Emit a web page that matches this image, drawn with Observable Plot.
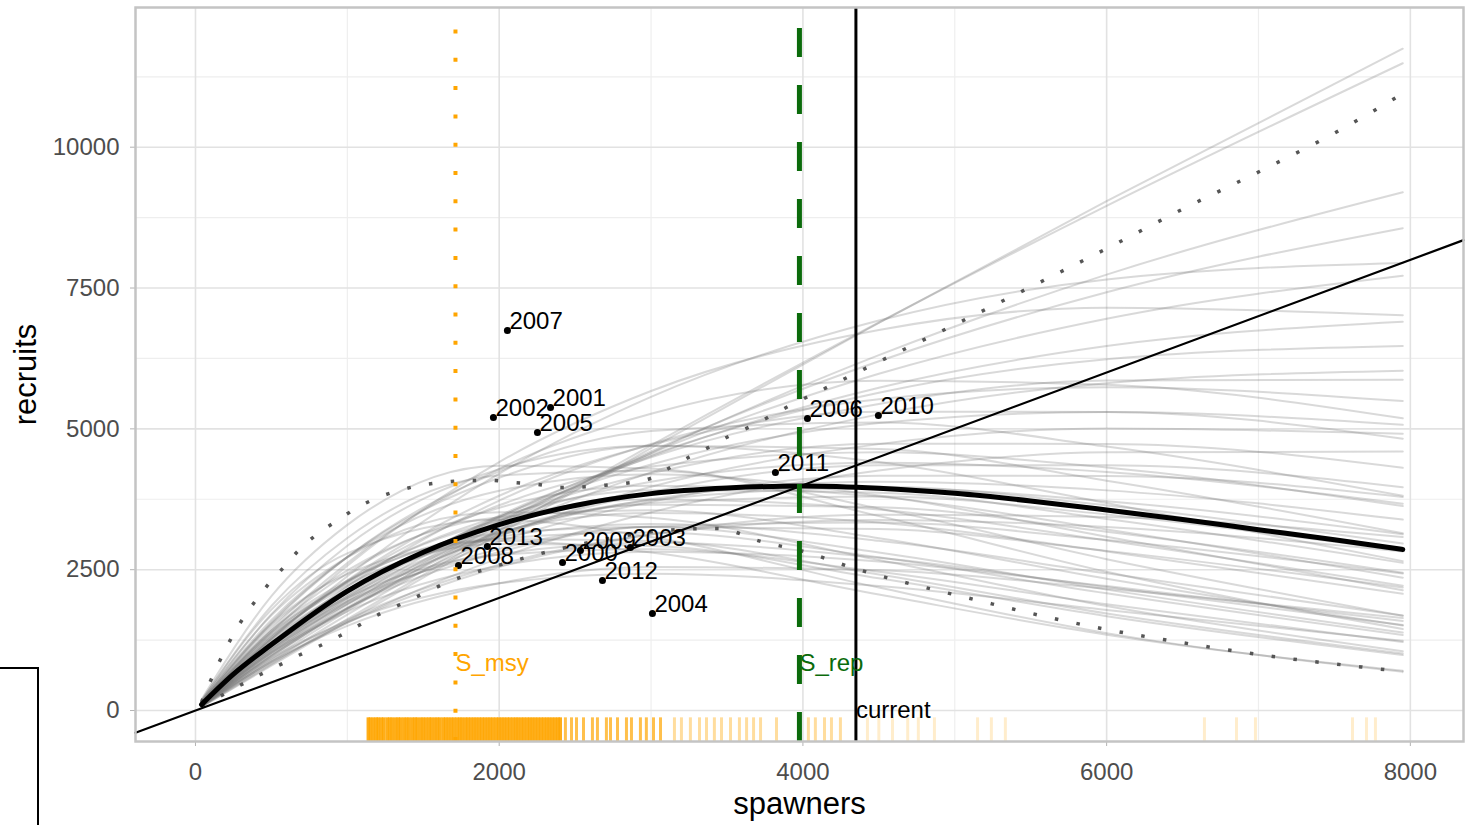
<!DOCTYPE html>
<html><head><meta charset="utf-8">
<script src="https://cdn.jsdelivr.net/npm/d3@7"></script>
<script src="https://cdn.jsdelivr.net/npm/@observablehq/plot@0.6"></script>
<style>
html,body{margin:0;padding:0;background:#fff;}
#chart{position:absolute;left:0;top:0;}
#legend-stub{position:absolute;left:-2px;top:667px;width:39px;height:170px;border-top:2px solid #000;border-right:2px solid #000;}
</style></head><body>
<div id="chart"></div>
<div id="legend-stub"></div>
<script>
// ---- scales / ticks ----
const xDomain = [-395, 8350];
const yDomain = [-550, 12480];
const xTicks = [0, 2000, 4000, 6000, 8000];
const xMinor = [1000, 3000, 5000, 7000];
const yTicks = [0, 2500, 5000, 7500, 10000];
const yMinor = [1250, 3750, 6250, 8750, 11250];

// ---- posterior curves (recruits read at these spawner values) ----
const curveS = [40, 500, 1000, 2000, 3000, 4500, 6000, 7950];
const grayCurves = [
[64, 796, 1584, 3137, 4658, 6883, 9041, 11748],
[66, 818, 1623, 3192, 4708, 6888, 8958, 11490],
[72, 875, 1703, 3221, 4571, 6308, 7738, 9200],
[76, 917, 1769, 3294, 4600, 6200, 7426, 8562],
[80, 956, 1826, 3335, 4568, 5979, 6955, 7719],
[84, 993, 1879, 3363, 4514, 5731, 6469, 6902],
[88, 1033, 1942, 3427, 4536, 5641, 6236, 6473],
[92, 1071, 1994, 3457, 4495, 5442, 5857, 5873],
[96, 1104, 2032, 3439, 4367, 5102, 5298, 5071],
[100, 1135, 2063, 3404, 4212, 4735, 4733, 4309],
[104, 1166, 2092, 3366, 4063, 4399, 4234, 3671],
[108, 1200, 2118, 3299, 3855, 3974, 3641, 2963],
[112, 1218, 2121, 3213, 3651, 3610, 3174, 2446],
[116, 1246, 2142, 3164, 3505, 3337, 2824, 2073],
[120, 1270, 2150, 3080, 3311, 3012, 2435, 1686],
[128, 1330, 2210, 3052, 3160, 2720, 2081, 1341],
[140, 1421, 2307, 3042, 3008, 2416, 1724, 1013],
[156, 1537, 2422, 3009, 2804, 2059, 1346, 704],
[177, 1856, 3063, 4170, 4258, 3586, 2687, 1681],
[197, 2030, 3296, 4346, 4298, 3452, 2463, 1447],
[158, 1711, 2926, 4282, 4699, 4412, 3682, 2652],
[139, 1544, 2726, 4246, 4960, 5114, 4685, 3812],
[127, 1448, 2620, 4290, 5268, 5855, 5783, 5187],
[119, 1389, 2572, 4411, 5673, 6755, 7151, 7019],
[79, 867, 1503, 2259, 2546, 2489, 2161, 1641],
[87, 931, 1576, 2259, 2428, 2209, 1786, 1237],
[95, 1026, 1756, 2569, 2820, 2647, 2209, 1591],
[100, 1088, 1894, 2869, 3260, 3223, 2834, 2184],
[104, 1147, 2025, 3154, 3684, 3799, 3481, 2832],
[119, 1305, 2273, 3443, 3911, 3868, 3400, 2621],
[131, 1418, 2437, 3600, 3988, 3797, 3214, 2358],
[96, 1076, 1931, 3107, 3750, 4061, 3908, 3389],
[111, 1272, 2310, 3812, 4717, 5303, 5301, 4826],
[92, 1045, 1898, 3131, 3875, 4356, 4354, 3964],
[104, 1196, 2201, 3726, 4731, 5527, 5739, 5494],
[143, 1496, 2486, 3433, 3555, 3060, 2341, 1508],
[165, 1690, 2719, 3520, 3420, 2672, 1855, 1052],
[75, 860, 1556, 2547, 3128, 3477, 3434, 3080],
[83, 972, 1800, 3088, 3971, 4729, 5006, 4913],
[151, 1608, 2723, 3902, 4194, 3815, 3085, 2136],
[80, 897, 1609, 2589, 3125, 3384, 3257, 2824],
[72, 838, 1560, 2705, 3518, 4259, 4584, 4597],
[134, 1380, 2241, 2955, 2922, 2347, 1675, 984],
[115, 1205, 2002, 2765, 2864, 2465, 1886, 1215],
[107, 1268, 2383, 4205, 5567, 6923, 7653, 7944],
[99, 1113, 1981, 3141, 3734, 3951, 3717, 3128],
[115, 1291, 2298, 3643, 4331, 4583, 4312, 3629],
[123, 1332, 2290, 3382, 3747, 3567, 3019, 2216],
[87, 999, 1815, 2995, 3707, 4167, 4165, 3792],
[107, 1143, 1935, 2772, 2980, 2711, 2191, 1518],
[131, 1371, 2279, 3147, 3259, 2805, 2146, 1383],
[93, 1034, 1818, 2814, 3267, 3336, 3027, 2432],
[142, 1567, 2727, 4131, 4694, 4641, 4080, 3145],
[82, 963, 1809, 3193, 4227, 5257, 5811, 6032],
[180, 1791, 2790, 3385, 3079, 2182, 1374, 688]
];

// ---- median curve ----
const medianS = [40, 250, 500, 1000, 1500, 2000, 2500, 3000, 3500, 4000, 4500, 5000, 5500, 6000, 6500, 7000, 7500, 7950];
const medianR = [105, 645, 1170, 2120, 2810, 3300, 3640, 3850, 3950, 3985, 3945, 3855, 3720, 3560, 3390, 3210, 3030, 2860];

// ---- upper / lower interval ----
const upperS = [40, 145, 217, 296, 382, 474, 580, 678, 790, 935, 1067, 1205, 1363, 1501, 1646, 1791, 1942, 2094, 2252, 2403, 2700, 2996, 3115, 3246, 3378, 3510, 3641, 3917, 4200, 4465, 5000, 5500, 6000, 6500, 7000, 7500, 7950];
const upperR = [150, 800, 1190, 1562, 1900, 2220, 2540, 2840, 3107, 3374, 3605, 3782, 3924, 4005, 4055, 4084, 4084, 4048, 4013, 3960, 4000, 4119, 4297, 4492, 4670, 4865, 5025, 5417, 5790, 6145, 6850, 7520, 8200, 8900, 9560, 10250, 10950];
const lowerS = [40, 200, 400, 547, 678, 823, 955, 1086, 1218, 1363, 1501, 1645, 2000, 2400, 2800, 3100, 3436, 3726, 4029, 4299, 4595, 4885, 5181, 5333, 5921, 6504, 7095, 7690, 7950];
const lowerR = [70, 310, 600, 799, 977, 1154, 1332, 1527, 1722, 1900, 2077, 2260, 2580, 2870, 3090, 3200, 3233, 3000, 2806, 2558, 2327, 2131, 1936, 1834, 1480, 1202, 959, 769, 690];

// ---- observed years ----
const years    = ["2000", "2001", "2002", "2003", "2004", "2005", "2006", "2007", "2008", "2009", "2010", "2011", "2012", "2013"];
const yearS    = [2417, 2338, 1962, 2864, 3009, 2252, 4030, 2054, 1732, 2535, 4497, 3819, 2680, 1922];
const yearR    = [2628, 5380, 5202, 2894, 1722, 4936, 5185, 6747, 2575, 2840, 5238, 4226, 2308, 2912];

// ---- reference points ----
const S_msy = 1712;
const S_rep = 3977;
const S_current = 4349;

// ---- rug of S_msy draws ----
const rugDense = [1138, 1152, 1171, 1190, 1204, 1223, 1240, 1262, 1279, 1296, 1318, 1335, 1351, 1372, 1390, 1407, 1428, 1446, 1461, 1483, 1500, 1519, 1538, 1554, 1575, 1593, 1610, 1631, 1648, 1666, 1685, 1703, 1722, 1740, 1757, 1778, 1795, 1813, 1832, 1850, 1869, 1887, 1905, 1924, 1941, 1960, 1979, 1997, 2016, 2034, 2053, 2071, 2090, 2109, 2126, 2146, 2164, 2183, 2201, 2219, 2238, 2257, 2276, 2294, 2313, 2331, 2350, 2369, 2388, 2402];
const rugMid = [2436, 2476, 2509, 2555, 2614, 2647, 2706, 2733, 2779, 2838, 2871, 2930, 2969, 3016, 3062];
const rugLight = [3154, 3200, 3259, 3319, 3365, 3417, 3464, 3523, 3582, 3629, 3675, 3721, 3826, 4036, 4082, 4142, 4188, 4247];
const rugFaint = [4425, 4500, 4590, 4690, 4760, 4866, 5150, 5241, 5333, 6644, 6855, 6980, 7619, 7711, 7770];

// ---- tables ----
const curveRows = grayCurves.flatMap((rs, id) => rs.map((R, i) => ({id, S: curveS[i], R})));
const medianRows = medianS.map((S, i) => ({S, R: medianR[i]}));
const upperRows = upperS.map((S, i) => ({S, R: upperR[i]}));
const lowerRows = lowerS.map((S, i) => ({S, R: lowerR[i]}));
const pointRows = years.map((year, i) => ({year, S: yearS[i], R: yearR[i]}));
const oneToOne = [xDomain[0], xDomain[1]];

const FONT = "'Liberation Sans', Arial, Helvetica, sans-serif";
const rugTop = -130;
const rug = (vals, op, w) => Plot.ruleX(vals, {x: d => d, y1: yDomain[0], y2: rugTop, stroke: "#FFA500", strokeOpacity: op, strokeWidth: w});

const chart = Plot.plot({
  width: 1466, height: 825,
  marginLeft: 135, marginRight: 3, marginTop: 7, marginBottom: 84,
  x: {domain: xDomain},
  y: {domain: yDomain},
  style: {fontFamily: FONT, fontSize: "24px", background: "#fff", color: "#000"},
  marks: [
    Plot.gridX(xMinor, {stroke: "#eeeeee", strokeOpacity: 1, strokeWidth: 1.2}),
    Plot.gridY(yMinor, {stroke: "#eeeeee", strokeOpacity: 1, strokeWidth: 1.2}),
    Plot.gridX(xTicks, {stroke: "#e2e2e2", strokeOpacity: 1, strokeWidth: 1.6}),
    Plot.gridY(yTicks, {stroke: "#e2e2e2", strokeOpacity: 1, strokeWidth: 1.6}),
    rug(rugDense, 0.9, 3.5),
    rug(rugMid, 0.7, 3),
    rug(rugLight, 0.38, 3),
    rug(rugFaint, 0.2, 3),
    Plot.line(curveRows, {x: "S", y: "R", z: "id", curve: "monotone-x", stroke: "#777", strokeOpacity: 0.28, strokeWidth: 2}),
    Plot.line(upperRows, {x: "S", y: "R", curve: "monotone-x", stroke: "#555", strokeWidth: 3.5, strokeDasharray: "3.5 18.5", strokeLinecap: "butt"}),
    Plot.line(lowerRows, {x: "S", y: "R", curve: "monotone-x", stroke: "#555", strokeWidth: 3.5, strokeDasharray: "3.5 18.5", strokeLinecap: "butt"}),
    Plot.line(oneToOne, {x: d => d, y: d => d, stroke: "#000", strokeWidth: 2.2}),
    Plot.line(medianRows, {x: "S", y: "R", curve: "monotone-x", stroke: "#000", strokeWidth: 5}),
    Plot.dot(pointRows, {x: "S", y: "R", r: 3.5, fill: "#000", stroke: "none"}),
    Plot.text(pointRows, {x: "S", y: "R", text: "year", textAnchor: "start", dx: 2, dy: -9, fontSize: 24, fill: "#000"}),
    Plot.ruleX([S_msy], {x: d => d, y1: yDomain[0], y2: yDomain[1], stroke: "#FFA500", strokeWidth: 4, strokeDasharray: "4 24.3"}),
    Plot.ruleX([S_rep], {x: d => d, y1: yDomain[0], y2: yDomain[1], stroke: "#0b6b0b", strokeWidth: 5, strokeDasharray: "29 28"}),
    Plot.ruleX([S_current], {x: d => d, y1: yDomain[0], y2: yDomain[1], stroke: "#000", strokeWidth: 3}),
    Plot.text([S_msy], {x: d => d, y: 840, text: () => "S_msy", textAnchor: "start", fontSize: 24, fill: "#FFA500"}),
    Plot.text([S_rep], {x: d => d, y: 840, text: () => "S_rep", textAnchor: "start", fontSize: 24, fill: "#0b6b0b"}),
    Plot.text([S_current], {x: d => d, y: 0, text: () => "current", textAnchor: "start", fontSize: 24, fill: "#000"}),
    Plot.axisX({ticks: xTicks, tickFormat: "d", tickSize: 5, tickPadding: 16, fontSize: 24, fill: "#4d4d4d", stroke: "#b3b3b3", label: null}),
    Plot.axisY({ticks: yTicks, tickFormat: "d", tickSize: 5, tickPadding: 11, fontSize: 24, fill: "#4d4d4d", stroke: "#b3b3b3", label: null}),
    Plot.frame({stroke: "#c4c4c4", strokeWidth: 2.5}),
    Plot.text(["spawners"], {frameAnchor: "bottom", dy: 72, fontSize: 31, fill: "#000"}),
    Plot.text(["recruits"], {frameAnchor: "left", textAnchor: "middle", rotate: -90, dx: -109, fontSize: 31, fill: "#000"})
  ]
});
document.getElementById("chart").appendChild(chart);
</script>
</body></html>
